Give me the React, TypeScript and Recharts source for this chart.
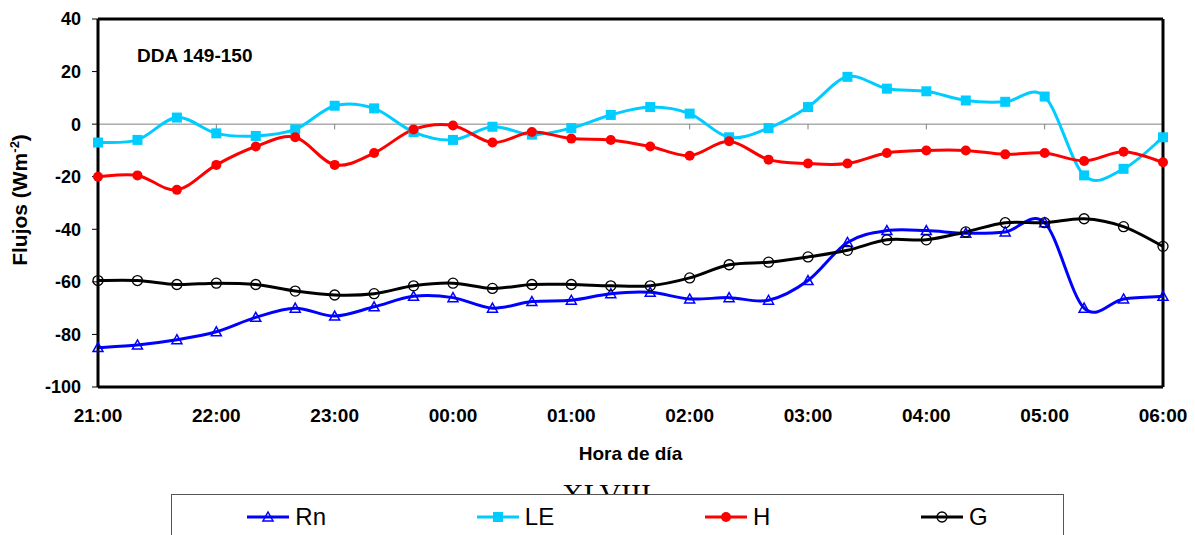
import React from "react";
import { LineChart, Line, XAxis, YAxis, ReferenceLine } from "recharts";

// 20-minute samples, 21:00 -> 06:00
const times = [
  "21:00", "21:20", "21:40", "22:00", "22:20", "22:40", "23:00", "23:20", "23:40", "00:00",
  "00:20", "00:40", "01:00", "01:20", "01:40", "02:00", "02:20", "02:40", "03:00", "03:20",
  "03:40", "04:00", "04:20", "04:40", "05:00", "05:20", "05:40", "06:00",
];
const hourTicks = ["21:00", "22:00", "23:00", "00:00", "01:00", "02:00", "03:00", "04:00", "05:00", "06:00"];
const yTicks = [-100, -80, -60, -40, -20, 0, 20, 40];

const rn = [-85, -84, -82, -79, -73.5, -70, -73, -69.5, -65.5, -66, -70, -67.5, -67, -64.5, -64, -66.5, -66, -67, -59.5, -45, -40.5, -40.5, -41.5, -41, -37.5, -70, -66.5, -65.5];
const le = [-7, -6, 2.5, -3.5, -4.5, -2, 7, 6, -3, -6, -1, -4, -1.5, 3.5, 6.5, 4, -5, -1.5, 6.5, 18, 13.5, 12.5, 9, 8.5, 10.5, -19.5, -17, -5];
const h = [-20, -19.5, -25, -15.5, -8.5, -5, -15.5, -11, -2, -0.5, -7, -3, -5.5, -6, -8.5, -12, -6.5, -13.5, -15, -15, -11, -10, -10, -11.5, -11, -14, -10.5, -14.5];
const g = [-59.5, -59.5, -61, -60.5, -61, -63.5, -65, -64.5, -61.5, -60.5, -62.5, -61, -61, -61.5, -61.5, -58.5, -53.5, -52.5, -50.5, -48, -44, -44, -41, -37.5, -37.5, -36, -39, -46.5];

const data = times.map((t, i) => ({ t, Rn: rn[i], LE: le[i], H: h[i], G: g[i] }));

const FONT = "'Liberation Sans', Arial, sans-serif";
const BLUE = "#0000ff";
const CYAN = "#00ccff";
const RED = "#ff0000";

// excel-like smoothed line (catmull-rom through every point)
const excelCurve = (context: any) => {
  let pts: number[][] = [];
  return {
    areaStart() {},
    areaEnd() {},
    lineStart() {
      pts = [];
    },
    point(x: number, y: number) {
      pts.push([+x, +y]);
    },
    lineEnd() {
      if (!pts.length) return;
      context.moveTo(pts[0][0], pts[0][1]);
      for (let i = 0; i < pts.length - 1; i++) {
        const p0 = pts[i - 1] || pts[i];
        const p1 = pts[i];
        const p2 = pts[i + 1];
        const p3 = pts[i + 2] || p2;
        context.bezierCurveTo(
          p1[0] + (p2[0] - p0[0]) / 6,
          p1[1] + (p2[1] - p0[1]) / 6,
          p2[0] - (p3[0] - p1[0]) / 6,
          p2[1] - (p3[1] - p1[1]) / 6,
          p2[0],
          p2[1]
        );
      }
    },
  };
};

type Shape = "tri" | "square" | "dot" | "ring";

function Marker({ shape, cx, cy }: { shape: Shape; cx: number; cy: number }) {
  if (shape === "tri")
    return <path d={`M${cx},${cy - 5}L${cx + 5},${cy + 4}L${cx - 5},${cy + 4}Z`} fill="none" stroke={BLUE} strokeWidth={1.5} />;
  if (shape === "square") return <rect x={cx - 5} y={cy - 5} width={10} height={10} fill={CYAN} />;
  if (shape === "dot") return <circle cx={cx} cy={cy} r={5} fill={RED} />;
  return <circle cx={cx} cy={cy} r={5} fill="none" stroke="#000" strokeWidth={1.3} />;
}

const dotFor = (shape: Shape) => (p: any) =>
  p.cx == null ? <g key={p.index} /> : <Marker key={p.index} shape={shape} cx={p.cx} cy={p.cy} />;

const series: { key: string; color: string; shape: Shape }[] = [
  { key: "Rn", color: BLUE, shape: "tri" },
  { key: "LE", color: CYAN, shape: "square" },
  { key: "H", color: RED, shape: "dot" },
  { key: "G", color: "#000000", shape: "ring" },
];

function LegendBox() {
  return (
    <div
      style={{
        position: "absolute",
        left: 171,
        top: 494,
        width: 891,
        height: 41,
        borderTop: "1px solid #555",
        borderLeft: "1px solid #555",
        borderRight: "1px solid #555",
        background: "#fff",
        overflow: "hidden",
      }}
    >
      <div style={{ display: "flex", justifyContent: "space-around", alignItems: "center", height: 44 }}>
        {series.map((s) => (
          <div key={s.key} style={{ display: "flex", alignItems: "center" }}>
            <svg width={42} height={14}>
              <line x1={0} y1={7} x2={42} y2={7} stroke={s.color} strokeWidth={3} />
              <Marker shape={s.shape} cx={21} cy={7} />
            </svg>
            <span style={{ fontSize: 24, marginLeft: 6, lineHeight: "26px", color: "#000" }}>{s.key}</span>
          </div>
        ))}
      </div>
    </div>
  );
}

export default function App() {
  return (
    <div style={{ position: "absolute", left: 0, top: 0, width: 1195, height: 535, background: "#fff", fontFamily: FONT, overflow: "hidden" }}>
      <div style={{ position: "absolute", left: 562, top: 479, fontFamily: "'Liberation Serif', 'Times New Roman', serif", fontSize: 30, lineHeight: 1 }}>
        XLVIII
      </div>
      <LineChart width={1195} height={535} data={data} margin={{ top: 19, right: 32, bottom: 88, left: 8 }}>
        <ReferenceLine y={0} stroke="#808080" strokeWidth={1} />
        {hourTicks.map((t) => (
          <ReferenceLine key={t} segment={[{ x: t, y: 0 }, { x: t, y: -2 }]} stroke="#808080" ifOverflow="visible" />
        ))}
        <XAxis
          dataKey="t"
          interval={2}
          tickLine={false}
          tickSize={0}
          tickMargin={22}
          axisLine={{ stroke: "#000", strokeWidth: 3 }}
          height={60}
          tick={{ fill: "#000", fontSize: 19, fontWeight: "bold", fontFamily: FONT }}
          label={{
            content: (p: any) => {
              const vb = p.viewBox || {};
              return (
                <text x={vb.x + vb.width / 2} y={460} textAnchor="middle" fontSize={19} fontWeight="bold" fontFamily={FONT} fill="#000">
                  Hora de día
                </text>
              );
            },
          }}
        />
        <YAxis
          domain={[-100, 40]}
          ticks={yTicks}
          width={90}
          tickSize={6}
          tickMargin={11}
          tickLine={{ stroke: "#000" }}
          axisLine={{ stroke: "#000", strokeWidth: 3 }}
          tick={{ fill: "#000", fontSize: 18, fontWeight: "bold", fontFamily: FONT }}
          label={{
            content: () => (
              <text transform="translate(27,200) rotate(-90)" textAnchor="middle" fontSize={21} fontWeight="bold" fontFamily={FONT} fill="#000">
                Flujos (Wm
                <tspan dy={-8} fontSize={13}>-2</tspan>
                <tspan dy={8}>)</tspan>
              </text>
            ),
          }}
        />
        <ReferenceLine y={40} stroke="#000" strokeWidth={3} />
        <ReferenceLine x="06:00" stroke="#000" strokeWidth={3} />
        {series.map((s) => (
          <Line
            key={s.key}
            dataKey={s.key}
            type={excelCurve as any}
            stroke={s.color}
            strokeWidth={3}
            dot={dotFor(s.shape)}
            activeDot={false}
            isAnimationActive={false}
          />
        ))}
      </LineChart>
      <div style={{ position: "absolute", left: 137, top: 46, fontSize: 19, fontWeight: "bold", lineHeight: 1 }}>DDA 149-150</div>
      <LegendBox />
    </div>
  );
}
